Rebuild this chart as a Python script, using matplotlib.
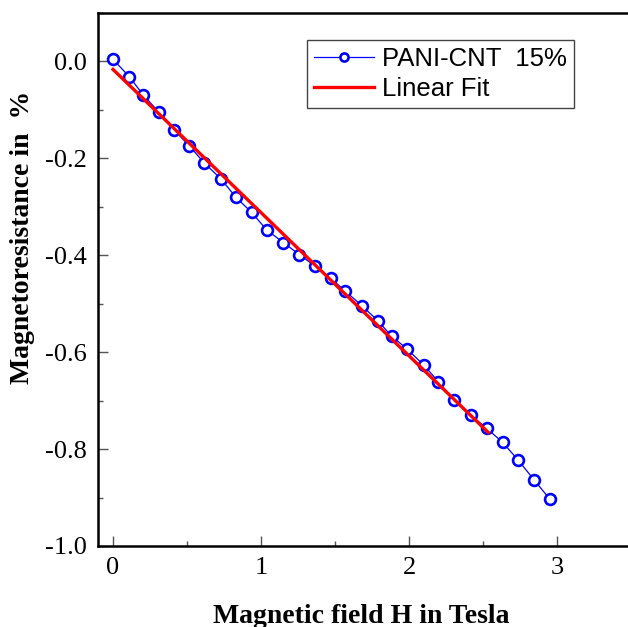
# Magnetoresistance of PANI-CNT 15% vs magnetic field, with linear fit
import matplotlib
matplotlib.use('Agg')
import matplotlib.pyplot as plt
from matplotlib.ticker import MultipleLocator, FormatStrFormatter

field = [0.0, 0.11, 0.205, 0.31, 0.41, 0.516, 0.617, 0.73, 0.831, 0.937,
         1.038, 1.151, 1.259, 1.367, 1.473, 1.568, 1.684, 1.788, 1.882, 1.988,
         2.10, 2.198, 2.304, 2.417, 2.524, 2.632, 2.738, 2.846, 2.953]
mr = [0.004, -0.032, -0.070, -0.105, -0.141, -0.175, -0.210, -0.243, -0.281, -0.312,
      -0.348, -0.374, -0.399, -0.423, -0.448, -0.474, -0.505, -0.535, -0.567, -0.594,
      -0.627, -0.661, -0.699, -0.730, -0.757, -0.786, -0.823, -0.864, -0.904]

# end points of the linear fit line
fit_x = [0.0, 2.536]
fit_y = [-0.017, -0.766]

plt.rcParams['axes.unicode_minus'] = False

fig = plt.figure(figsize=(6.28, 6.27), dpi=100)
ax = fig.add_axes([0.1564, 0.1292, 0.8484, 0.8505])

ax.plot(field, mr, color='#0000ff', lw=0.9, marker='o', ms=7.8, mew=1.9,
        mfc='white', mec='#0000ff', label='PANI-CNT  15%', zorder=3)
ax.plot(fit_x, fit_y, color='#ff0000', lw=2.4, label='Linear Fit', zorder=4)

ax.set_xlim(-0.1, 3.5)
ax.set_ylim(-1.0, 0.1)
ax.xaxis.set_major_locator(MultipleLocator(1))
ax.xaxis.set_minor_locator(MultipleLocator(0.5))
ax.yaxis.set_major_locator(MultipleLocator(0.2))
ax.yaxis.set_minor_locator(MultipleLocator(0.1))
ax.yaxis.set_major_formatter(FormatStrFormatter('%.1f'))

ax.tick_params(which='both', direction='in', color='#555555', width=1,
               top=False, right=False)
ax.tick_params(which='major', length=7.2, pad=8, labelsize=19)
ax.tick_params(which='minor', length=3.6)
for lab in ax.get_xticklabels() + ax.get_yticklabels():
    lab.set_fontfamily('Liberation Serif')

ax.spines['right'].set_visible(False)
for s in ['left', 'bottom', 'top']:
    ax.spines[s].set_linewidth(1.8)

leg = ax.legend(loc='upper left', bbox_to_anchor=(306.7 / 628, 1 - 40 / 627),
                bbox_transform=fig.transFigure, borderaxespad=0,
                prop={'family': 'Liberation Sans', 'size': 18.5},
                handlelength=2.35, handletextpad=0.3, labelspacing=0.22,
                borderpad=0.28, markerscale=0.75, fancybox=False,
                framealpha=1, edgecolor='#444444')
leg.get_frame().set_linewidth(1.0)

fig.text(361 / 628, 0.0064, 'Magnetic field H in Tesla', ha='center',
         va='baseline', fontfamily='Liberation Serif', fontweight='bold',
         fontsize=20)
fig.text(0.036, 1 - 237 / 627, 'Magnetoresistance in  %', rotation=90,
         ha='center', va='center', fontfamily='Liberation Serif',
         fontweight='bold', fontsize=20)

fig.savefig('out.png', dpi=100)
